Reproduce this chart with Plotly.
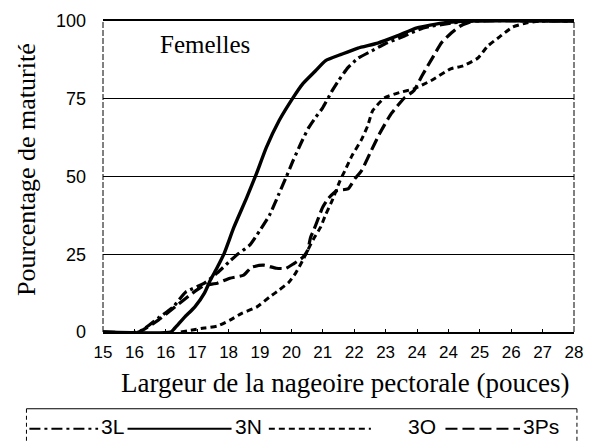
import plotly.graph_objects as go

# Axis labels (positions 0..15 along the width axis)
tick_labels = ["15", "16", "16", "17", "18", "19", "20", "21",
               "22", "23", "24", "24", "25", "26", "27", "28"]
y_ticks = [0, 25, 50, 75, 100]

# Maturity curves, x given as position along the tick scale
x_3L = [0, 1.13, 1.76, 2.23, 2.63, 3.23, 3.64, 4.04, 4.33, 4.67, 4.98, 5.3, 5.61,
        5.83, 6.05, 6.3, 6.55, 6.77, 6.99, 7.3, 7.5, 7.8, 8.12, 8.56, 8.97, 9.6,
        10.2, 11.16, 11.8, 15]
y_3L = [0, 0, 4.5, 8, 12.8, 15.7, 19, 22.8, 25.3, 27.9, 32.4, 37.5, 44.6,
        49.7, 55, 60.6, 65.7, 69, 72, 77.6, 80.8, 85, 88, 90.4, 92.6, 95.2,
        97.8, 99.4, 100, 100]

x_3N = [0, 2.16, 2.29, 2.6, 2.92, 3.23, 3.42, 3.64, 3.86, 4.17, 4.58, 4.89, 5.2,
        5.61, 6.05, 6.36, 6.77, 7.08, 7.62, 8.12, 8.75, 9.37, 10.0, 10.85, 11.63, 15]
y_3N = [0, 0, 1.3, 4.8, 8, 12.5, 16.7, 20.8, 25.3, 33.7, 43.3, 51, 59.3,
        68, 75.3, 79.8, 84, 87.2, 89.4, 91.3, 92.9, 95.2, 97.8, 99.4, 100, 100]

x_3O = [2.48, 3.23, 3.64, 4.04, 4.42, 4.89, 5.3, 5.61, 5.92, 6.14, 6.36, 6.52,
        6.71, 6.93, 7.08, 7.3, 7.55, 7.71, 7.93, 8.24, 8.43, 8.59, 8.97, 9.44,
        9.9, 10.44, 11.07, 11.47, 11.94, 12.26, 12.63, 13.04, 13.5, 13.92, 15]
y_3O = [0, 1.3, 1.9, 3.8, 6, 8, 11.2, 13.5, 16, 19, 23, 26.3,
        30, 33.7, 37.5, 42.3, 48.7, 52, 56.7, 62, 66.3, 71.2, 75.3, 77,
        78.2, 80.8, 84.6, 85.6, 88.1, 92, 94.9, 98, 99.4, 100, 100]

x_3Ps = [0, 1.13, 1.76, 2.48, 2.85, 3.23, 3.64, 4.04, 4.48, 4.73, 5.11, 5.52,
         5.83, 6.08, 6.36, 6.52, 6.61, 6.71, 6.87, 6.99, 7.18, 7.46, 7.8, 8.03,
         8.24, 8.5, 8.81, 9.18, 9.6, 9.9, 10.16, 10.53, 10.78, 11.1, 11.38, 11.8, 15]
y_3Ps = [0, 0, 3.8, 9.6, 12.5, 15, 15.7, 17.3, 18.3, 20.8, 21.5, 20.5,
         20.5, 22, 24, 26.3, 30.4, 32.7, 36.9, 40, 43, 45.5, 46, 49.4,
         52, 57.4, 63.8, 70.2, 75.3, 77.6, 82.4, 88.8, 93, 96.2, 98.4, 100, 100]

series = [
    ("3L", x_3L, y_3L, "11px,4px,3px,4px", 3.2),
    ("3N", x_3N, y_3N, "solid", 3.4),
    ("3O", x_3O, y_3O, "6px,4px", 3.0),
    ("3Ps", x_3Ps, y_3Ps, "12px,5px", 3.2),
]

fig = go.Figure()
for name, xs, ys, dash, w in series:
    fig.add_trace(go.Scatter(
        x=xs, y=ys, mode="lines", name=name, showlegend=False,
        line=dict(color="black", width=w, dash=dash, shape="spline", smoothing=0.5),
    ))

# Plot area: 103..583 px horizontally, 20..332 px vertically
L, R, T, B = 103, 11, 20, 114
W, H = 594, 446
pw, ph = W - L - R, H - T - B


def px(xp):
    return (xp - L) / pw


def py(yp):
    return (H - B - yp) / ph


sans = "Liberation Sans, Arial, sans-serif"
serif = "Liberation Serif, Times New Roman, serif"

fig.update_layout(
    width=W, height=H,
    margin=dict(l=L, r=R, t=T, b=B),
    paper_bgcolor="white", plot_bgcolor="white",
    font=dict(family=sans, color="black"),
    showlegend=False,
    xaxis=dict(
        range=[0, 15], tickmode="array", tickvals=list(range(len(tick_labels))),
        ticktext=tick_labels, showgrid=False, zeroline=False,
        showline=True, mirror=True, linecolor="black", linewidth=1.5,
        ticks="inside", ticklen=3, tickcolor="black", ticklabelstandoff=4,
        tickfont=dict(family=sans, size=17, color="black"),
    ),
    yaxis=dict(
        range=[0, 100], tickmode="array", tickvals=y_ticks,
        showgrid=True, gridcolor="black", gridwidth=1.2, zeroline=False,
        showline=False, ticks="", ticklabelstandoff=16,
        tickfont=dict(family=sans, size=18, color="black"),
    ),
)

# Side edges of the frame
for xe in (0, 1):
    fig.add_shape(type="line", xref="paper", yref="paper", x0=xe, x1=xe, y0=0, y1=1,
                  line=dict(color="black", width=1, dash="6px,2px"))

# Titles
fig.add_annotation(text="Pourcentage de maturité", xref="paper", yref="paper",
                   x=px(25), y=py(169), xanchor="center", yanchor="middle",
                   textangle=-90, showarrow=False,
                   font=dict(family=serif, size=26, color="black"))
fig.add_annotation(text="Largeur de la nageoire pectorale (pouces)", xref="paper",
                   yref="paper", x=px(350), y=py(383), xanchor="center",
                   yanchor="middle", showarrow=False,
                   font=dict(family=serif, size=27, color="black"))
fig.add_annotation(text="Femelles", xref="paper", yref="paper", x=px(207), y=py(44),
                   xanchor="center", yanchor="middle", showarrow=False,
                   font=dict(family=serif, size=25, color="black"))

# Legend box with line samples
box_l, box_r, box_t, box_b = 25, 586, 409, 443
fig.add_shape(type="line", xref="paper", yref="paper", x0=px(box_l), x1=px(box_r),
              y0=py(box_t), y1=py(box_t), line=dict(color="black", width=1))
for xe in (box_l, box_r):
    fig.add_shape(type="line", xref="paper", yref="paper", x0=px(xe), x1=px(xe),
                  y0=py(box_t), y1=py(box_b), line=dict(color="black", width=1, dash="4px,3px"))

leg_y = 427
legend_items = [
    (28, 98, 99), (128, 234, 235), (272, 376, 412), (452, 528, 529)
]
for (name, _, _, dash, w), (l0, l1, tx) in zip(series, legend_items):
    fig.add_shape(type="line", xref="paper", yref="paper", x0=px(l0), x1=px(l1),
                  y0=py(leg_y + 2), y1=py(leg_y + 2),
                  line=dict(color="black", width=2, dash=dash))
    fig.add_annotation(text=name, xref="paper", yref="paper", x=px(tx), y=py(leg_y),
                       xanchor="left", yanchor="middle", showarrow=False,
                       font=dict(family=sans, size=21, color="black"))

fig.write_html("out.html")
